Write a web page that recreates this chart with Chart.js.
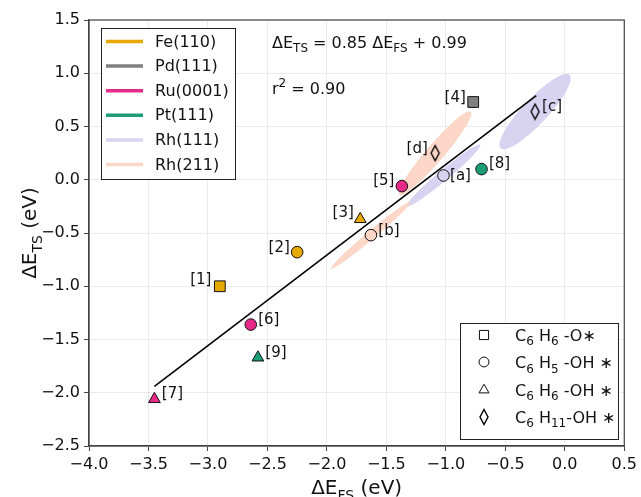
<!DOCTYPE html>
<html><head><meta charset="utf-8">
<script src="https://cdn.jsdelivr.net/npm/chart.js@4/dist/chart.umd.min.js"></script>
<style>html,body{margin:0;padding:0;background:#fff}#wrap{width:641px;height:497px}</style>
</head><body><div id="wrap"><canvas id="c" width="641" height="497"></canvas></div>
<script>
// ---------------- DATA ----------------
const pointLabels = ['[1]','[2]','[3]','[4]','[5]','[6]','[7]','[8]','[9]','[a]','[b]','[c]','[d]'];
const dEFS = [-2.90,-2.25,-1.72,-0.77,-1.37,-2.64,-3.45,-0.70,-2.58,-1.02,-1.63,-0.25,-1.09];
const dETS = [-1.00,-0.68,-0.37,0.73,-0.06,-1.36,-2.06,0.10,-1.67,0.04,-0.52,0.64,0.25];
const pointSurface = ['Fe(110)','Fe(110)','Fe(110)','Pd(111)','Ru(0001)','Ru(0001)','Ru(0001)','Pt(111)','Pt(111)','Rh(111)','Rh(211)','Rh(111)','Rh(211)'];
const pointAdsorbate = ['C6H6-O*','C6H5-OH*','C6H6-OH*','C6H6-O*','C6H5-OH*','C6H5-OH*','C6H6-OH*','C6H5-OH*','C6H6-OH*','C6H5-OH*','C6H5-OH*','C6H11-OH*','C6H11-OH*'];
const surfaces = ['Fe(110)','Pd(111)','Ru(0001)','Pt(111)','Rh(111)','Rh(211)'];
const adsorbates = ['C6H6-O*','C6H5-OH*','C6H6-OH*','C6H11-OH*'];
// linear fit  dETS = 0.85 dEFS + 0.99
const fitX = [-3.45, -0.24];
const fitY = [-1.94, 0.79];
// uncertainty ellipses: centre, major-axis half vector (data units), minor/major ratio
const ellSurface = ['Rh(111)','Rh(111)','Rh(211)','Rh(211)'];
const ellX  = [-0.25, -1.02, -1.09, -1.63];
const ellY  = [ 0.64,  0.04,  0.25, -0.52];
const ellDX = [ 0.29,  0.31,  0.30,  0.335];
const ellDY = [ 0.345, 0.29,  0.39,  0.315];
const ellRatio = [0.25, 0.11, 0.16, 0.08];
const xTicks = [-4.0,-3.5,-3.0,-2.5,-2.0,-1.5,-1.0,-0.5,0.0,0.5];
const yTicks = [-2.5,-2.0,-1.5,-1.0,-0.5,0.0,0.5,1.0,1.5];

// ---------------- STYLE ----------------
const FAM = "'DejaVu Sans', sans-serif";
const surfaceColor = {'Fe(110)':'#e6a902','Pd(111)':'#808080','Ru(0001)':'#e7298a','Pt(111)':'#1b9e77','Rh(111)':'#d9d3f2','Rh(211)':'#fcd7c8'};
const markerFill = {'Rh(111)':'#d9d3f2','Rh(211)':'#fcd7c8'};
function thinDiamond(){
  const c = document.createElement('canvas'); c.width = 12; c.height = 18;
  const g = c.getContext('2d');
  g.beginPath(); g.moveTo(6,1.5); g.lineTo(10,9); g.lineTo(6,16.5); g.lineTo(2,9); g.closePath();
  g.lineWidth = 1.4; g.strokeStyle = '#000'; g.stroke();
  return c;
}
const diamondImg = thinDiamond();
const adsStyle = {'C6H6-O*':{ps:'rect',r:7.6},'C6H5-OH*':{ps:'circle',r:5.8},'C6H6-OH*':{ps:'triangle',r:6.8},'C6H11-OH*':{ps:diamondImg,r:7}};
const adsText = {
  'C6H6-O*':[['C',0],['6',1],[' H',0],['6',1],[' -O',0],['\u2217',0]],
  'C6H5-OH*':[['C',0],['6',1],[' H',0],['5',1],[' -OH',0],[' \u2217',0]],
  'C6H6-OH*':[['C',0],['6',1],[' H',0],['6',1],[' -OH',0],[' \u2217',0]],
  'C6H11-OH*':[['C',0],['6',1],[' H',0],['11',1],['-OH',0],[' \u2217',0]]
};
// label placement relative to marker (px)
const labelOffset = {'[1]':[-19,-6],'[2]':[-18,-4],'[3]':[-17,-6],'[4]':[-18,-4],'[5]':[-18,-5],'[6]':[18,-4],'[7]':[18,-5],'[8]':[18,-5],'[9]':[18,-4],'[a]':[17,1],'[b]':[18,-4],'[c]':[17,-4],'[d]':[-18,-4]};

function pointFill(i){
  const s = pointSurface[i];
  if (pointAdsorbate[i]==='C6H11-OH*') return 'rgba(0,0,0,0)';
  return markerFill[s] || surfaceColor[s];
}

function drawRich(ctx, parts, x, y, size, align){
  const sub = Math.round(size*0.72);
  const w = p => { ctx.font = (p[1]? sub: size)+'px '+FAM; return ctx.measureText(p[0]).width; };
  const total = parts.reduce((s,p)=>s+w(p),0);
  let cx = align==='center' ? x-total/2 : x;
  ctx.textAlign='left'; ctx.textBaseline='alphabetic';
  for (const p of parts){
    const ww = w(p);
    const dy = p[1]===1 ? size*0.28 : (p[1]===2 ? -size*0.42 : 0);
    ctx.fillText(p[0], cx, y+dy); cx += ww;
  }
}

const fmt = v => (Math.abs(v)<1e-9?0:v).toFixed(1).replace('-','\u2212');

const ellipsePlugin = {
  id:'ellipses',
  beforeDatasetsDraw(chart){
    const {ctx, chartArea:a, scales:{x,y}} = chart;
    ctx.save(); ctx.beginPath(); ctx.rect(a.left,a.top,a.width,a.height); ctx.clip();
    for (let i=0;i<ellX.length;i++){
      const cx=x.getPixelForValue(ellX[i]), cy=y.getPixelForValue(ellY[i]);
      const ex=x.getPixelForValue(ellX[i]+ellDX[i]), ey=y.getPixelForValue(ellY[i]+ellDY[i]);
      const A=Math.hypot(ex-cx,ey-cy), ang=Math.atan2(ey-cy,ex-cx);
      ctx.beginPath(); ctx.ellipse(cx,cy,A,A*ellRatio[i],ang,0,Math.PI*2);
      ctx.fillStyle=surfaceColor[ellSurface[i]]; ctx.fill();
    }
    ctx.restore();
  }
};

const decorPlugin = {
  id:'decor',
  afterDatasetsDraw(chart){
    const {ctx, chartArea:a} = chart;
    const meta = chart.getDatasetMeta(0);
    ctx.save();
    ctx.fillStyle='#111';
    ctx.font='15px '+FAM; ctx.textBaseline='middle'; ctx.textAlign='center';
    meta.data.forEach((el,i)=>{
      const o = labelOffset[pointLabels[i]];
      ctx.fillText(pointLabels[i], el.x+o[0], el.y+o[1]);
    });
    // frame
    ctx.strokeStyle='#444'; ctx.lineWidth=1.2;
    ctx.strokeRect(a.left, a.top, a.width, a.height);
    // equation
    ctx.fillStyle='#111';
    drawRich(ctx,[['\u0394E',0],['TS',1],[' = 0.85 \u0394E',0],['FS',1],[' + 0.99',0]], 272, 48, 16, 'left');
    drawRich(ctx,[['r',0],['2',2],[' = 0.90',0]], 272, 94, 16, 'left');
    // legend 1 (surfaces)
    ctx.fillStyle='#fff'; ctx.fillRect(101,28,134,151);
    ctx.strokeStyle='#222'; ctx.lineWidth=1; ctx.strokeRect(101.5,28.5,134,151);
    surfaces.forEach((s,i)=>{
      const yy = 41.5 + i*24.6;
      ctx.strokeStyle=surfaceColor[s]; ctx.lineWidth=3.5;
      ctx.beginPath(); ctx.moveTo(106,yy); ctx.lineTo(143,yy); ctx.stroke();
      ctx.fillStyle='#111'; ctx.font='16px '+FAM; ctx.textAlign='left'; ctx.textBaseline='middle';
      ctx.fillText(s, 155, yy+1);
    });
    // legend 2 (adsorbates)
    ctx.fillStyle='#fff'; ctx.fillRect(460,323,158,116);
    ctx.strokeStyle='#222'; ctx.lineWidth=1; ctx.strokeRect(460.5,323.5,158,116);
    adsorbates.forEach((s,i)=>{
      const yy = 335 + i*27.3;
      const st = adsStyle[s];
      ctx.fillStyle='#fff'; ctx.strokeStyle='#111'; ctx.lineWidth=1;
      Chart.helpers.drawPoint(ctx,{pointStyle:st.ps, radius:st.r*0.85, rotation:0, borderWidth:1}, 484, Math.round(yy));
      ctx.fillStyle='#111';
      drawRich(ctx, adsText[s], 515, yy+6, 16, 'left');
    });
    // axis titles
    ctx.fillStyle='#111';
    drawRich(ctx,[['\u0394E',0],['FS',1],[' (eV)',0]], (a.left+a.right)/2, 494, 20, 'center');
    ctx.save(); ctx.translate(36,(a.top+a.bottom)/2); ctx.rotate(-Math.PI/2);
    drawRich(ctx,[['\u0394E',0],['TS',1],[' (eV)',0]], 0, 0, 20, 'center');
    ctx.restore();
    ctx.restore();
  }
};

const tickFont = {family:FAM, size:16};
new Chart(document.getElementById('c'), {
  type:'scatter',
  data:{datasets:[
    {
      label:'points', order:0,
      data: dEFS.map((v,i)=>({x:v,y:dETS[i]})),
      pointStyle: dEFS.map((v,i)=>adsStyle[pointAdsorbate[i]].ps),
      pointRadius: dEFS.map((v,i)=>adsStyle[pointAdsorbate[i]].r),
      pointHoverRadius: dEFS.map((v,i)=>adsStyle[pointAdsorbate[i]].r),
      backgroundColor: dEFS.map((v,i)=>pointFill(i)),
      borderColor:'#111', borderWidth:1
    },
    {
      label:'fit', type:'line', order:1,
      data: fitX.map((v,i)=>({x:v,y:fitY[i]})),
      borderColor:'#000', borderWidth:1.6, pointRadius:0, fill:false, tension:0
    }
  ]},
  options:{
    responsive:false, animation:false, devicePixelRatio:1,
    layout:{padding:{top:20,right:16,left:0,bottom:0}},
    plugins:{legend:{display:false}, tooltip:{enabled:false}},
    scales:{
      x:{type:'linear', min:-4, max:0.5,
        afterBuildTicks: s => { s.ticks = xTicks.map(v=>({value:v})); },
        afterFit: s => { s.height = 51; },
        ticks:{callback:v=>fmt(v), font:tickFont, color:'#111', padding:4, maxRotation:0, autoSkip:false},
        grid:{color:'#ebebeb', lineWidth:1, tickColor:'#444', tickLength:5},
        border:{color:'#444', width:1.2}
      },
      y:{type:'linear', min:-2.5, max:1.5,
        afterBuildTicks: s => { s.ticks = yTicks.map(v=>({value:v})); },
        afterFit: s => { s.width = 89; },
        ticks:{callback:v=>fmt(v), font:tickFont, color:'#111', padding:4, autoSkip:false},
        grid:{color:'#ebebeb', lineWidth:1, tickColor:'#444', tickLength:5},
        border:{color:'#444', width:1.2}
      }
    }
  },
  plugins:[ellipsePlugin, decorPlugin]
});
</script></body></html>
